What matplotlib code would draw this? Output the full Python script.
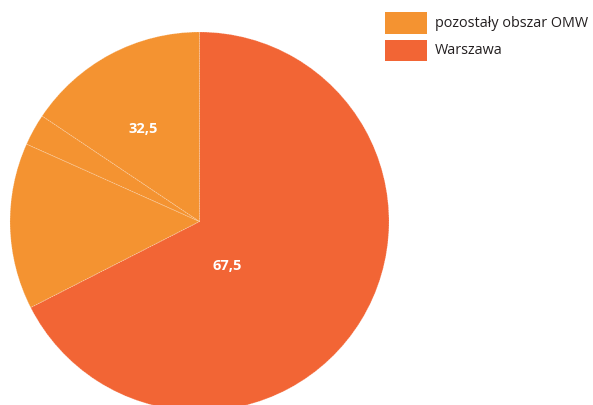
import matplotlib
matplotlib.use("Agg")
import matplotlib.pyplot as plt
from matplotlib.patches import Rectangle

# Data
series_names = ["pozostały obszar OMW", "Warszawa"]
series_totals = [32.5, 67.5]
# Slices as drawn (clockwise from 12 o'clock)
slice_values = [67.5, 14.2, 2.7, 15.6]
slice_series = [1, 0, 0, 0]

colors = ["#F49331", "#F26535"]

W, H = 593, 406
fig = plt.figure(figsize=(W / 100, H / 100), dpi=100)
ax = fig.add_axes([0, 0, 1, 1])

cx, cy, r = 199.5, H - 222.5, 189.5
wedges, _ = ax.pie(slice_values, colors=[colors[s] for s in slice_series],
                   startangle=90, counterclock=False, center=(cx, cy), radius=r,
                   wedgeprops=dict(edgecolor=(1, 1, 1, 0.3), linewidth=0.6,
                                   linestyle=(0, (2, 1))))
ax.set_xlim(0, W)
ax.set_ylim(0, H)
ax.set_aspect("equal")
ax.axis("off")

fmt = lambda v: f"{v:.1f}".replace(".", ",")
font = "Open Sans"
# value labels (offsets as fractions of radius)
label_pos = {0: (-0.298, 0.496), 1: (0.145, -0.227)}
for i, v in enumerate(series_totals):
    dx, dy = label_pos[i]
    ax.text(cx + dx * r, cy + dy * r, fmt(v), color="white", fontsize=10.5,
            fontweight="bold", family=font, ha="center", va="center")

# legend
for i, name in enumerate(series_names):
    y0 = H - 13 - i * 27.5
    ax.add_patch(Rectangle((385, y0 - 21.5), 42, 21.5, color=colors[i], lw=0))
    ax.text(435, y0 - 10.5, name, fontsize=10.4, family=font, color="#231F20",
            ha="left", va="center")

fig.savefig("out.png", dpi=100)
